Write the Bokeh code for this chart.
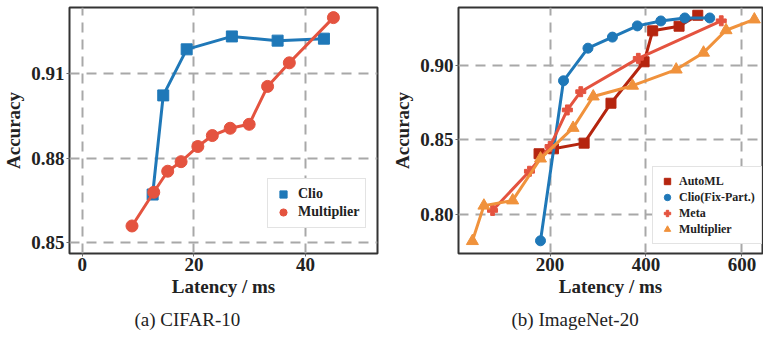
from bokeh.plotting import figure
from bokeh.layouts import row
from bokeh.models import (Range1d, FixedTicker, Legend, LegendItem, Title)
from bokeh.embed import file_html
from bokeh.resources import INLINE

# ---------------- data: (a) CIFAR-10 ----------------
a_clio_x = [12.6, 14.5, 18.7, 26.8, 35.0, 43.3]
a_clio_y = [0.867, 0.9023, 0.9187, 0.9233, 0.9218, 0.9225]
a_mult_x = [8.9, 12.8, 15.3, 17.7, 20.7, 23.3, 26.5, 29.9, 33.2, 37.1, 45.0]
a_mult_y = [0.8558, 0.8678, 0.8753, 0.8787, 0.8841, 0.8880, 0.8906, 0.8920,
            0.9055, 0.9139, 0.9300]
a_xticks = [0, 20, 40]
a_xlabels = ["0", "20", "40"]
a_yticks = [0.85, 0.88, 0.91]
a_ylabels = ["0.85", "0.88", "0.91"]

# ---------------- data: (b) ImageNet-20 ----------------
b_automl_x = [177, 207, 271, 327, 396, 414, 469, 508]
b_automl_y = [0.8407, 0.8440, 0.8478, 0.8745, 0.9022, 0.9229, 0.9260, 0.9333]
b_clio_x = [180, 228, 279, 330, 382, 431, 481, 533]
b_clio_y = [0.7825, 0.8895, 0.9113, 0.9187, 0.9262, 0.9295, 0.9315, 0.9315]
b_meta_x = [80, 157, 200, 236, 264, 384, 557]
b_meta_y = [0.8028, 0.8290, 0.8456, 0.8700, 0.8822, 0.9045, 0.9296]
b_mult_x = [38, 62, 122, 180, 248, 290, 372, 463, 520, 567, 626]
b_mult_y = [0.7823, 0.8060, 0.8095, 0.8375, 0.8580, 0.8790, 0.8862, 0.8970,
            0.9083, 0.9233, 0.9305]
b_xticks = [200, 400, 600]
b_xlabels = ["200", "400", "600"]
b_yticks = [0.80, 0.85, 0.90]
b_ylabels = ["0.80", "0.85", "0.90"]

BLUE = "#1f78b8"
RED = "#e4533f"
DARKRED = "#b5250f"
ORANGE = "#f0923c"
FONT = "Liberation Serif"


def style(p, xticks, xlabels, yticks, ylabels):
    p.outline_line_color = "#333333"
    p.outline_line_width = 2
    for ax in (p.xaxis[0], p.yaxis[0]):
        ax.axis_line_color = None
        ax.minor_tick_line_color = None
        ax.major_tick_out = 3
        ax.major_tick_in = 0
        ax.major_tick_line_color = "#666666"
        ax.major_label_text_font = FONT
        ax.major_label_text_font_style = "bold"
        ax.major_label_text_font_size = "19px"
        ax.major_label_text_color = "#222222"
        ax.axis_label_text_font = FONT
        ax.axis_label_text_font_style = "bold"
        ax.axis_label_text_font_size = "19px"
        ax.axis_label_text_color = "#222222"
    p.xaxis.ticker = FixedTicker(ticks=xticks)
    p.xaxis.major_label_overrides = dict(zip(xticks, xlabels))
    p.yaxis.ticker = FixedTicker(ticks=yticks)
    p.yaxis.major_label_overrides = dict(zip(yticks, ylabels))
    p.xaxis.major_label_standoff = 1
    p.yaxis.major_label_standoff = 2
    p.xaxis.axis_label_standoff = 2
    p.yaxis.axis_label_standoff = 4
    for g in (p.xgrid[0], p.ygrid[0]):
        g.grid_line_color = "#a8a8a8"
        g.grid_line_width = 2
        g.grid_line_dash = "10 7"
    p.xaxis.axis_label = "Latency / ms"
    p.yaxis.axis_label = "Accuracy"


def style_legend(leg, size, glyph, padding, standoff):
    leg.label_text_font = FONT
    leg.label_text_font_style = "bold"
    leg.label_text_font_size = size
    leg.label_text_color = "#222222"
    leg.glyph_width = glyph
    leg.glyph_height = glyph
    leg.label_height = glyph
    leg.spacing = 0
    leg.padding = padding
    leg.margin = 0
    leg.label_standoff = standoff
    leg.border_line_color = "#c8c8c8"
    leg.border_line_width = 1
    leg.background_fill_alpha = 1


# ---------------- figure (a) ----------------
pa = figure(width=385, height=341, output_backend="svg", toolbar_location=None,
            x_range=Range1d(-2.3, 52.9), y_range=Range1d(0.846, 0.9336),
            min_border_left=67, min_border_right=8, min_border_top=7,
            min_border_bottom=88)
style(pa, a_xticks, a_xlabels, a_yticks, a_ylabels)

pa.line(a_clio_x, a_clio_y, line_color=BLUE, line_width=3)
ra1 = pa.scatter(a_clio_x, a_clio_y, marker="square", size=11,
                 fill_color=BLUE, line_color=BLUE)
pa.line(a_mult_x, a_mult_y, line_color=RED, line_width=3)
ra2 = pa.scatter(a_mult_x, a_mult_y, marker="circle", size=12,
                 fill_color=RED, line_color=RED)

leg_a = Legend(items=[LegendItem(label="Clio", renderers=[ra1]),
                      LegendItem(label="Multiplier", renderers=[ra2])],
               location=(198, 25))
style_legend(leg_a, "14px", 18, 6, 6)
pa.add_layout(leg_a)
pa.add_layout(Title(text="(a) CIFAR-10", align="left", offset=65,
                    text_font=FONT, text_font_style="normal",
                    text_font_size="19px", text_color="#222222",
                    standoff=14), "below")

# ---------------- figure (b) ----------------
pb = figure(width=378, height=341, output_backend="svg", toolbar_location=None,
            x_range=Range1d(9, 643), y_range=Range1d(0.774, 0.9385),
            min_border_left=73, min_border_right=1, min_border_top=7,
            min_border_bottom=87)
style(pb, b_xticks, b_xlabels, b_yticks, b_ylabels)

pb.line(b_automl_x, b_automl_y, line_color=DARKRED, line_width=3)
rb1 = pb.scatter(b_automl_x, b_automl_y, marker="square", size=10,
                 fill_color=DARKRED, line_color=DARKRED)
pb.line(b_clio_x, b_clio_y, line_color=BLUE, line_width=3)
rb2 = pb.scatter(b_clio_x, b_clio_y, marker="circle", size=10,
                 fill_color=BLUE, line_color=BLUE)
pb.line(b_meta_x, b_meta_y, line_color=RED, line_width=3)
rb3 = pb.scatter(b_meta_x, b_meta_y, marker="plus", size=10,
                 fill_color=RED, line_color=RED)
pb.line(b_mult_x, b_mult_y, line_color=ORANGE, line_width=3)
rb4 = pb.scatter(b_mult_x, b_mult_y, marker="triangle", size=12,
                 fill_color=ORANGE, line_color=ORANGE)

leg_b = Legend(items=[LegendItem(label="AutoML", renderers=[rb1]),
                      LegendItem(label="Clio(Fix-Part.)", renderers=[rb2]),
                      LegendItem(label="Meta", renderers=[rb3]),
                      LegendItem(label="Multiplier", renderers=[rb4])],
               location=(194, 9))
style_legend(leg_b, "12px", 16, 6, 4)
pb.add_layout(leg_b)
pb.add_layout(Title(text="(b) ImageNet-20", align="left", offset=53,
                    text_font=FONT, text_font_style="normal",
                    text_font_size="19px", text_color="#222222",
                    standoff=14), "below")

layout = row(pa, pb)
open("out.html", "w").write(file_html(layout, INLINE))
